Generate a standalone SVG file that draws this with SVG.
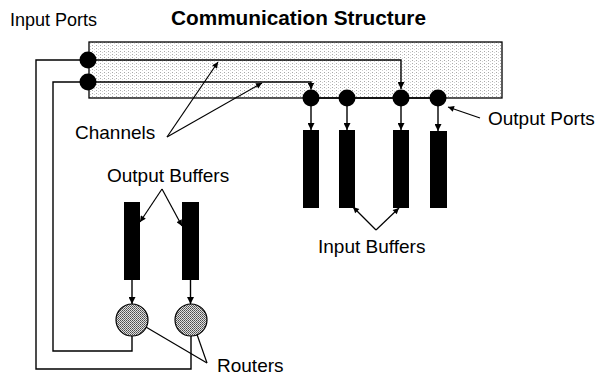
<svg xmlns="http://www.w3.org/2000/svg" width="596" height="375" viewBox="0 0 596 375">
<style>
text{font-family:"Liberation Sans",Arial,Helvetica,sans-serif;fill:#000;}
.lbl{font-size:19px;}
.wire{fill:none;stroke:#000;stroke-width:1.4;}
.call{fill:none;stroke:#000;stroke-width:1.2;}
.port{fill:#000;}
.buf{fill:#000;}
.router{fill:url(#dense);stroke:#000;stroke-width:1.2;}
</style>
<defs>
<pattern id="sparse" width="4" height="3" patternUnits="userSpaceOnUse">
<rect width="4" height="3" fill="#fff"/>
<rect x="0" y="0" width="1" height="1" fill="#a8a8a8"/>
<rect x="2" y="1" width="1" height="1" fill="#d0d0d0"/>
</pattern>
<pattern id="dense" width="2" height="2" patternUnits="userSpaceOnUse">
<rect width="2" height="2" fill="#e0e0e0"/>
<rect x="0" y="0" width="1" height="1" fill="#4a4a4a"/>
<rect x="1" y="1" width="1" height="1" fill="#6a6a6a"/>
</pattern>
<marker id="ah" viewBox="0 0 10 10" refX="10" refY="5" markerWidth="7" markerHeight="7" markerUnits="userSpaceOnUse" orient="auto">
<path d="M0,0 L10,5 L0,10 z" fill="#000"/>
</marker>
<marker id="ahs" viewBox="0 0 10 10" refX="10" refY="5" markerWidth="8" markerHeight="6" markerUnits="userSpaceOnUse" orient="auto">
<path d="M0,0 L10,5 L0,10 z" fill="#000"/>
</marker>
</defs>

<g id="communication-structure">
<rect x="89" y="42" width="413" height="56" fill="url(#sparse)" stroke="#000" stroke-width="1.3"/>
</g>

<g id="connectors">
<path class="wire" d="M88,60 H401 V89" marker-end="url(#ah)"/>
<path class="wire" d="M88,82 H311 V89.5" marker-end="url(#ah)"/>
<line class="wire" x1="311" y1="98" x2="437" y2="98"/>
<path class="wire" d="M88,60 H36 V369 H191 V336"/>
<path class="wire" d="M88,82 H53 V351 H132 V336"/>
<line class="wire" x1="311" y1="106" x2="311" y2="130" marker-end="url(#ah)"/>
<line class="wire" x1="347" y1="106" x2="347" y2="130" marker-end="url(#ah)"/>
<line class="wire" x1="401" y1="106" x2="401" y2="130" marker-end="url(#ah)"/>
<line class="wire" x1="438" y1="106" x2="438" y2="131" marker-end="url(#ah)"/>
<line class="wire" x1="132" y1="280" x2="132" y2="304" marker-end="url(#ah)"/>
<line class="wire" x1="190.5" y1="280" x2="190.5" y2="304" marker-end="url(#ah)"/>
<line class="call" x1="167" y1="137" x2="218" y2="62" marker-end="url(#ahs)"/>
<line class="call" x1="167" y1="137" x2="262" y2="83" marker-end="url(#ahs)"/>
<line class="call" x1="480" y1="118" x2="448" y2="107" marker-end="url(#ahs)"/>
<line class="call" x1="162" y1="189" x2="140" y2="222" marker-end="url(#ahs)"/>
<line class="call" x1="162" y1="189" x2="182" y2="226" marker-end="url(#ahs)"/>
<line class="call" x1="376" y1="230" x2="353" y2="207" marker-end="url(#ahs)"/>
<line class="call" x1="376" y1="230" x2="399" y2="208" marker-end="url(#ahs)"/>
<line class="call" x1="207" y1="363" x2="134" y2="320" marker-end="url(#ahs)"/>
<line class="call" x1="207" y1="363" x2="193" y2="323" marker-end="url(#ahs)"/>
</g>

<g id="input-port-1"><circle class="port" cx="88" cy="60" r="8.5"/></g>
<g id="input-port-2"><circle class="port" cx="88" cy="82" r="8.5"/></g>

<g id="output-port-1"><circle class="port" cx="311" cy="98" r="8.5"/></g>
<g id="output-port-2"><circle class="port" cx="347" cy="98" r="8.5"/></g>
<g id="output-port-3"><circle class="port" cx="401" cy="98" r="8.5"/></g>
<g id="output-port-4"><circle class="port" cx="438" cy="98" r="8.5"/></g>

<g id="input-buffer-1"><rect class="buf" x="303" y="130" width="16" height="78"/></g>
<g id="input-buffer-2"><rect class="buf" x="339" y="130" width="16" height="78"/></g>
<g id="input-buffer-3"><rect class="buf" x="393" y="130" width="16" height="78"/></g>
<g id="input-buffer-4"><rect class="buf" x="430" y="131" width="17" height="77"/></g>

<g id="output-buffer-1"><rect class="buf" x="124" y="202" width="16" height="78"/></g>
<g id="output-buffer-2"><rect class="buf" x="182" y="202" width="17" height="78"/></g>

<g id="router-1"><circle class="router" cx="132" cy="320" r="16"/></g>
<g id="router-2"><circle class="router" cx="191" cy="320" r="16"/></g>

<g id="labels">
<text x="10" y="26" font-size="18">Input Ports</text>
<text x="171" y="25" font-size="20" font-weight="bold" textLength="255" lengthAdjust="spacingAndGlyphs">Communication Structure</text>
<text class="lbl" x="75" y="139">Channels</text>
<text class="lbl" x="488" y="125">Output Ports</text>
<text class="lbl" x="107" y="182">Output Buffers</text>
<text class="lbl" x="318" y="253">Input Buffers</text>
<text class="lbl" x="217" y="372">Routers</text>
</g>
</svg>
